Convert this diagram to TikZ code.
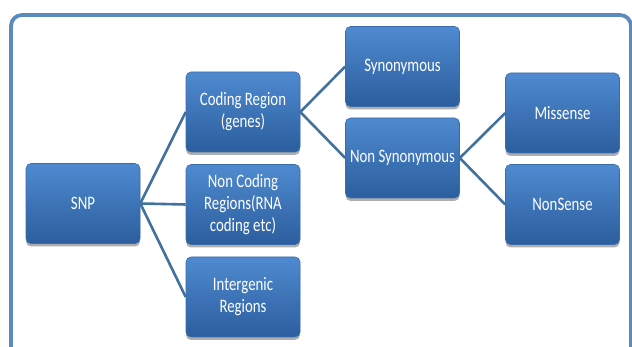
\documentclass[tikz,border=0pt]{standalone}
\usepackage{fontspec}
\setmainfont[FakeStretch=0.78]{Carlito}
\usetikzlibrary{shadows}
\definecolor{framec}{HTML}{5B8BBD}
\definecolor{linec}{HTML}{41719C}
\definecolor{boxtop}{HTML}{4F8AD0}
\definecolor{boxbot}{HTML}{2B5E9E}
\definecolor{boxedge}{HTML}{3A6CA8}
\tikzset{
  box/.style={rectangle, rounded corners=5pt, minimum width=114pt, minimum height=80pt,
    inner sep=0pt, align=center, text=white, font=\fontsize{19}{22}\selectfont,
    top color=boxtop, bottom color=boxbot, draw=boxedge, line width=0.6pt,
    drop shadow={shadow xshift=0pt, shadow yshift=-3pt, opacity=0.45, fill=black!70}},
  conn/.style={draw=linec, line width=2.6pt}
}
\begin{document}
\begin{tikzpicture}[x=1pt,y=-1pt]
\useasboundingbox (0,0) rectangle (632,347);
\clip (0,0) rectangle (632,347);
\draw[framec, line width=3.8pt, rounded corners=11pt] (11,15) rectangle (631,380);
\node[box] (snp) at (83,203.5) {SNP};
\node[box] (cod) at (243,112) {Coding Region\\(genes)};
\node[box] (ncod) at (243,204.5) {Non Coding\\Regions(RNA\\coding etc)};
\node[box] (inter) at (243,297) {Intergenic\\Regions};
\node[box] (syn) at (402.5,66.5) {Synonymous};
\node[box] (nsyn) at (402.5,158) {Non Synonymous};
\node[box] (mis) at (562.5,113) {Missense};
\node[box] (nons) at (562.5,204.5) {NonSense};
\begin{scope}[on background layer/.try]
\end{scope}
\draw[conn] (snp.east) -- (cod.west);
\draw[conn] (snp.east) -- (ncod.west);
\draw[conn] (snp.east) -- (inter.west);
\draw[conn] (cod.east) -- (syn.west);
\draw[conn] (cod.east) -- (nsyn.west);
\draw[conn] (nsyn.east) -- (mis.west);
\draw[conn] (nsyn.east) -- (nons.west);
\end{tikzpicture}
\end{document}
